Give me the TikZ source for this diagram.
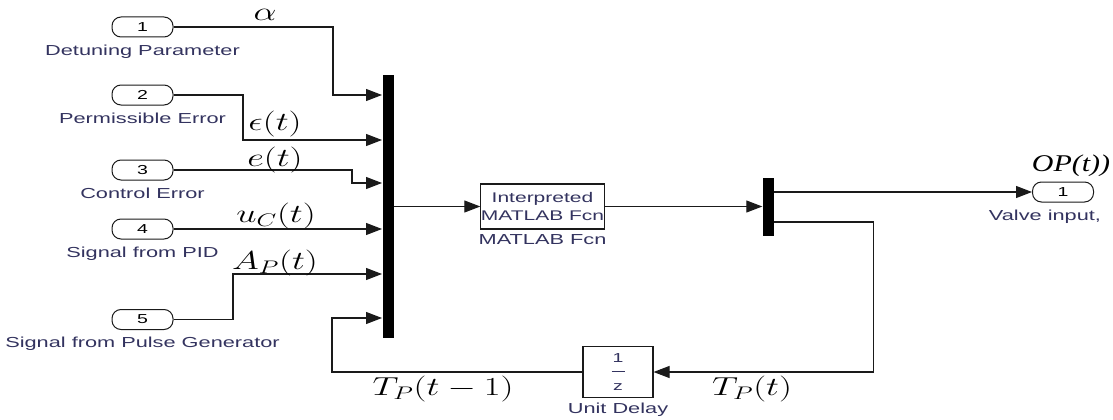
\RequirePackage{fix-cm}
\documentclass[tikz,border=0pt]{standalone}
\usepackage{fontspec}
\usepackage{graphicx}
\usetikzlibrary{arrows.meta,positioning,calc}
\newfontfamily\slk[FakeStretch=1.5]{Liberation Sans}
\newfontfamily\opfont[FakeStretch=1.25]{Liberation Serif}
\definecolor{slkink}{HTML}{1A1A1A}
\definecolor{slkblue}{HTML}{33335F}
\newcommand\mlab[1]{\scalebox{1.4}[1]{$#1$}}

\begin{document}
\begin{tikzpicture}[
        x=1pt, y=-1pt,
        port/.style={draw=slkink, line width=1pt, rounded corners=9pt,
                     minimum width=61pt, minimum height=20pt, inner sep=0pt,
                     font=\slk\fontsize{13}{14}\selectfont},
        plab/.style={font=\slk\fontsize{14.5}{16}\selectfont, text=slkblue,
                     inner sep=0pt},
        bar/.style={fill=black, minimum width=11pt, inner sep=0pt},
        blk/.style={draw=slkink, line width=1.1pt, fill=white, inner sep=0pt,
                    align=center},
        sig/.style={-{Triangle[length=16pt,width=12pt]}, line width=1.1pt, slkink},
        mlbl/.style={font=\fontsize{26}{28}\selectfont, inner sep=0pt}
    ]
        \path[use as bounding box, fill=white] (0,0) rectangle (1113,420);

        \node[port] (in1) at (142.5,27) {1};
        \node[port] (in2) at (142.5,95) {2};
        \node[port] (in3) at (142.5,170) {3};
        \node[port] (in4) at (142.5,229) {4};
        \node[port] (in5) at (142.5,319.5) {5};
        \node[plab, below=7pt of in1] (lab1) {Detuning Parameter};
        \node[plab, below=7pt of in2] (lab2) {Permissible Error};
        \node[plab, below=7pt of in3] (lab3) {Control Error};
        \node[plab, below=7pt of in4] (lab4) {Signal from PID};
        \node[plab, below=7pt of in5] (lab5) {Signal from Pulse Generator};

        \node[bar, minimum height=263pt] (mux) at (388,206.5) {};
        \coordinate (m1) at (382,95);
        \coordinate (m2) at (382,140);
        \coordinate (m3) at (382,183);
        \coordinate (m4) at (382,229);
        \coordinate (m5) at (382,274);
        \coordinate (m6) at (382,318);

        \node[blk, minimum width=121pt, minimum height=45pt,
              font=\slk\fontsize{14}{18}\selectfont, text=slkblue] (fcn)
              at (542.5,206.5) {Interpreted\\MATLAB Fcn};
        \node[plab, below=5pt of fcn] (fcnlab) {MATLAB Fcn};

        \node[bar, minimum height=58pt] (dmx) at (768,207) {};
        \node[port] (out1) at (1063,192) {1};
        \node[plab, below=7pt of out1, xshift=-18pt] (outlab) {Valve input,};

        \node[blk, minimum width=70pt, minimum height=51pt,
              font=\slk\fontsize{13}{14}\selectfont, text=slkblue] (ud)
              at (618,372) {1\\\rule[4pt]{13pt}{1pt}\\z};
        \node[plab, below=5pt of ud] (udlab) {Unit Delay};

        \draw[sig] (in1.east) -| ([xshift=-49pt]m1) -- (m1);
        \draw[sig] (in2.east) -| ([xshift=-139pt]m2) -- (m2);
        \draw[sig] (in3.east) -| ([xshift=-30pt]m3) -- (m3);
        \draw[sig] (in4.east) -- (m4);
        \draw[sig] (in5.east) -| ([xshift=-149pt]m5) -- (m5);
        \draw[sig] (ud.west) -| ([xshift=-50pt]m6) -- (m6);
        \draw[sig] (mux.east |- fcn.west) -- (fcn.west);
        \draw[sig] (fcn.east) -- (dmx.west |- fcn.east);
        \draw[sig] ([yshift=15pt]dmx.east) -- (out1.west);
        \draw[sig] ([yshift=-15pt]dmx.east) -| ([xshift=220pt]ud.east) -- (ud.east);

        \node[mlbl] (alpha) at (265,15) {\mlab{\alpha}};
        \node[mlbl] (eps) at (275,124) {\mlab{\epsilon(t)}};
        \node[mlbl] (err) at (275,160) {\mlab{e(t)}};
        \node[mlbl] (uc) at (276,216) {\mlab{u_C(t)}};
        \node[mlbl] (ap) at (275,263) {\mlab{A_P(t)}};
        \node[mlbl] (tprev) at (443,389) {\mlab{T_P(t-1)}};
        \node[mlbl] (tnow) at (752,389) {\mlab{T_P(t)}};
        \node[inner sep=0pt, font=\opfont\itshape\fontsize{24}{26}\selectfont]
              (op) at (1071,166) {OP(t))};
    \end{tikzpicture}
\end{document}
